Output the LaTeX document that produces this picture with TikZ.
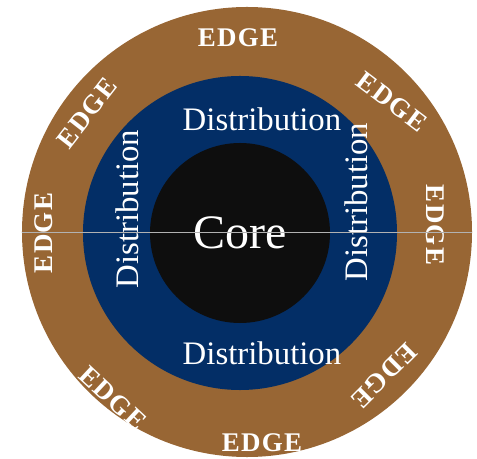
\documentclass[tikz,border=0pt]{standalone}
\usepackage{fontspec}
\setmainfont{Liberation Serif}
\newfontfamily\edgefont[LetterSpace=5]{Liberation Serif}
\definecolor{edgebrown}{RGB}{152,102,52}
\definecolor{distblue}{RGB}{3,46,102}
\definecolor{coreblack}{RGB}{14,14,14}

\begin{document}
\begin{tikzpicture}[
  x=0.03cm, y=-0.03cm,
  ring/.style={circle, inner sep=0pt, outer sep=0pt},
  edgelabel/.style={text=white, inner sep=0pt, font=\edgefont\bfseries\fontsize{23}{23}\selectfont},
  distlabel/.style={text=white, inner sep=0pt, font=\fontsize{28}{28}\selectfont}
]
\useasboundingbox (0,0) rectangle (477,459);

% the three layers
\node[ring, fill=edgebrown, minimum size=13.5cm] (edgering) at (247,232) {};
\node[ring, fill=distblue, minimum size=9.42cm] (distring) at (240,233) {};
\node[ring, fill=coreblack, minimum size=5.4cm] (core) at (240,233) {};

% outer ring labels
\begin{scope}
\clip (247,232) circle[radius=225];
\node[edgelabel] (edgeN) at (238,38) {EDGE};
\node[edgelabel, rotate=52] (edgeNW) at (87,113) {EDGE};
\node[edgelabel, rotate=-37] (edgeNE) at (392,102) {EDGE};
\node[edgelabel, rotate=90] (edgeW) at (44,233) {EDGE};
\node[edgelabel, rotate=-90] (edgeE) at (435,225) {EDGE};
\node[edgelabel, rotate=-43] (edgeSW) at (113,398) {EDGE};
\node[edgelabel, rotate=225] (edgeSE) at (384,376) {EDGE};
\node[edgelabel] (edgeS) at (262,443) {EDGE};
\end{scope}

% middle ring labels
\node[distlabel] (distN) at (262,119) {Distribution};
\node[distlabel] (distS) at (262,353) {Distribution};
\node[distlabel, rotate=90] (distW) at (127,209) {Distribution};
\node[distlabel, rotate=90] (distE) at (356,202) {Distribution};

\node[text=white, inner sep=0pt, font=\fontsize{41}{41}\selectfont] (corelabel) at (240,233) {Core};

\draw[white!70!black, line width=0.3pt] (edgering.west) -- (edgering.east);
\end{tikzpicture}
\end{document}
